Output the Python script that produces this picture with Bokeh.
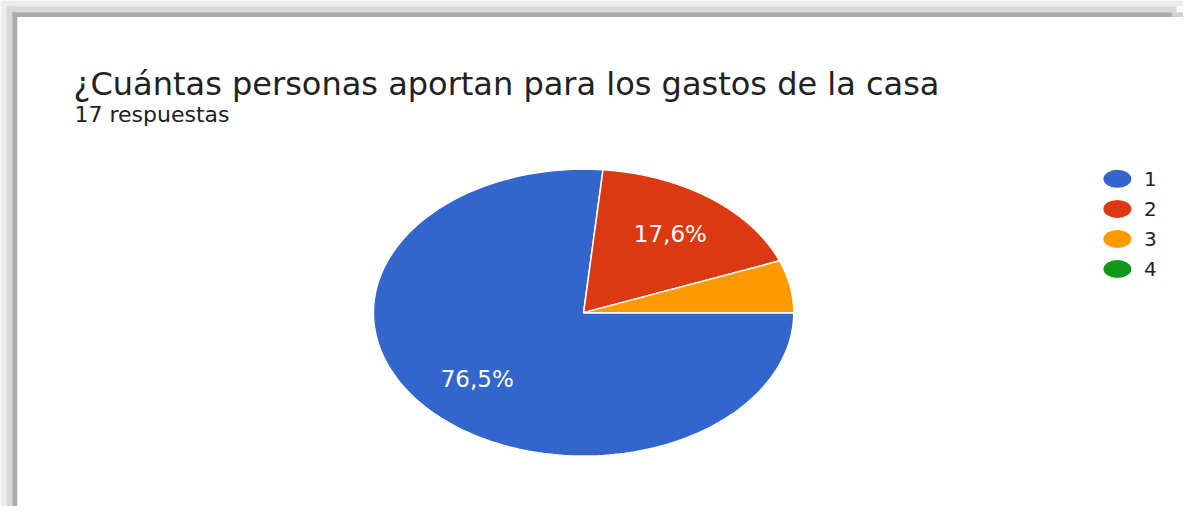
import numpy as np
from bokeh.plotting import figure
from bokeh.models import Range1d
from bokeh.embed import file_html
from bokeh.resources import INLINE
from bokeh.core.properties import value

# ---- data ----
title_text = "¿Cuántas personas aportan para los gastos de la casa"
subtitle_text = "17 respuestas"
categories = ["1", "2", "3", "4"]
counts = [13, 3, 1, 0]
colors = ["#3366cc", "#dc3912", "#ff9900", "#109618"]

# ---- layout ----
W, H = 1183, 506
RW, RH = 1199, 522   # reference pixel space
FONT = "DejaVu Sans"


def px(x):
    return x


def py(y):
    return RH - y


p = figure(width=W, height=H, x_range=Range1d(0, RW), y_range=Range1d(0, RH),
           output_backend="svg", toolbar_location=None, min_border=0)
p.axis.visible = False
p.grid.visible = False
p.outline_line_color = None
p.background_fill_color = "white"
p.border_fill_color = "white"

# frame shadow (top and left bands)
p.quad(left=[0], right=[RW], top=[py(0)], bottom=[py(6)], fill_color="#ececec", line_color=None)
p.quad(left=[0], right=[6], top=[py(0)], bottom=[py(RH)], fill_color="#ececec", line_color=None)
p.quad(left=[6], right=[1192], top=[py(6)], bottom=[py(12)], fill_color="#d8d8d8", line_color=None)
p.quad(left=[6], right=[12], top=[py(6)], bottom=[py(RH)], fill_color="#d8d8d8", line_color=None)
p.quad(left=[12], right=[1188], top=[py(12)], bottom=[py(17)], fill_color="#ababab", line_color=None)
p.quad(left=[12], right=[17], top=[py(12)], bottom=[py(RH)], fill_color="#ababab", line_color=None)
p.quad(left=[1188], right=[1199], top=[py(12)], bottom=[py(17)], fill_color="#d0d0d0", line_color=None)

# titles
p.text(x=[px(74)], y=[py(86)], text=[title_text], text_font=value(FONT),
       text_font_size="32px", text_color="#212121", text_baseline="alphabetic")
p.text(x=[px(75)], y=[py(118)], text=[subtitle_text], text_font=value(FONT),
       text_font_size="22px", text_color="#212121", text_baseline="alphabetic")

# pie (elliptical), starting at 3 o'clock, clockwise
cx, cy = px(591), py(322)
rx, ry = 213, 148
total = float(sum(counts))
xs, ys, fills, lx, ly, ltxt = [], [], [], [], [], []
a = 0.0
for cat, c, col in zip(categories, counts, colors):
    if c <= 0:
        continue
    sweep = 2 * np.pi * c / total
    t = np.linspace(a, a - sweep, 200)
    xs.append(list(np.r_[cx, cx + rx * np.cos(t)]))
    ys.append(list(np.r_[cy, cy + ry * np.sin(t)]))
    fills.append(col)
    pct = 100.0 * c / total
    if pct >= 10:
        mid = a - sweep / 2
        lx.append(cx + 0.685 * rx * np.cos(mid))
        ly.append(cy + 0.685 * ry * np.sin(mid))
        ltxt.append(f"{pct:.1f}".replace(".", ",") + "%")
    a -= sweep

p.patches(xs=xs, ys=ys, fill_color=fills, line_color="white", line_width=1.5)
p.text(x=lx, y=ly, text=ltxt, text_font=value(FONT), text_font_size="23px",
       text_color="white", text_align="center", text_baseline="middle")

# legend
leg_y = [py(184 + 31 * i) for i in range(len(categories))]
p.ellipse(x=[px(1132)] * len(categories), y=leg_y, width=28, height=18,
          width_units="screen", height_units="screen", fill_color=colors, line_color=None)
p.text(x=[px(1159)] * len(categories), y=leg_y, text=categories, text_font=value(FONT),
       text_font_size="20px", text_color="#222222", text_baseline="middle")

open("out.html", "w").write(file_html(p, INLINE))
